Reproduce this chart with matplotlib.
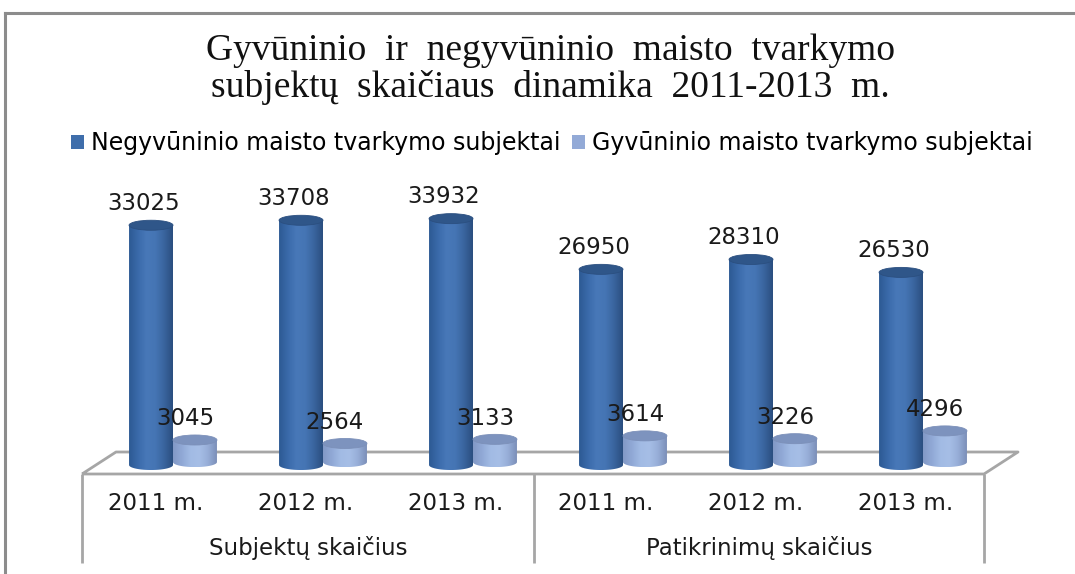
import matplotlib
matplotlib.use("Agg")
import matplotlib.pyplot as plt
import numpy as np
from matplotlib.patches import Ellipse, Polygon, Patch
from matplotlib.lines import Line2D


# =========================
# DATOS
# =========================

YEARS = ["2011 m.", "2012 m.", "2013 m.", "2011 m.", "2012 m.", "2013 m."]
GROUPS = ["Subjektų skaičius", "Patikrinimų skaičius"]
SERIES_NAMES = ["Negyvūninio maisto tvarkymo subjektai", "Gyvūninio maisto tvarkymo subjektai"]
NEGYVUNINIO = [33025, 33708, 33932, 26950, 28310, 26530]
GYVUNINIO = [3045, 2564, 3133, 3614, 3226, 4296]

TITLE = "Gyvūninio  ir  negyvūninio  maisto  tvarkymo\nsubjektų  skaičiaus  dinamika  2011-2013  m."

# =========================
# ESTILO / LAYOUT
# =========================

FIG_W, FIG_H = 1075, 574
DPI = 100
PX_PER_UNIT = 0.00726          # pixeles por unidad de valor
BASE_PX = 465                  # pixel (desde arriba) de la base de las barras
X0_PX = 173                    # centro del primer grupo
STEP_PX = 150                  # distancia entre categorias
Y_LOW, Y_HIGH = -16000, 40000

BAR_W = 0.293
ELL_H = 1380                   # alto del elipse superior en unidades
LIGHT_SHIFT = 400              # la serie clara se ve un poco mas arriba (profundidad)

DARK_GRAD = ["#2d5a94", "#3a6aaa", "#4878b8", "#4575b4", "#3a659f", "#2b4f80"]
DARK_TOP = "#2f5689"
LIGHT_GRAD = ["#8299c6", "#91a9d6", "#a2bbe4", "#a6bee6", "#97aed8", "#7c90b9"]
LIGHT_TOP = "#7d93be"
FLOOR_COLOR = "#a6a6a6"
FONT = "DejaVu Sans"
FS = 16.5


def cylinder(ax, x, base, top, color_list, top_color):
    half = BAR_W / 2
    eh = ELL_H / 2
    t = np.linspace(np.pi, 2 * np.pi, 40)
    pts = [(x - half, top), (x - half, base)]
    pts += list(zip(x + half * np.cos(t), base + eh * np.sin(t)))
    pts += [(x + half, top)]
    clip = Polygon(pts, closed=True, transform=ax.transData, facecolor="none", edgecolor="none")
    ax.add_patch(clip)

    cmap = matplotlib.colors.LinearSegmentedColormap.from_list("g", color_list)
    grad = np.linspace(0, 1, 64).reshape(1, -1)
    im = ax.imshow(grad, cmap=cmap, aspect="auto", extent=(x - half, x + half, base - eh, top),
                   origin="lower", zorder=2, interpolation="bilinear")
    im.set_clip_path(clip)

    ax.add_patch(Ellipse((x, top), BAR_W, ELL_H, facecolor=top_color,
                         edgecolor=color_list[-1], linewidth=0.6, zorder=3))


def main() -> None:
    fig = plt.figure(figsize=(FIG_W / DPI, FIG_H / DPI), dpi=DPI)

    # marco exterior
    fig.add_artist(Line2D([5 / FIG_W, 5 / FIG_W], [0, 1 - 13 / FIG_H], color="#8c8c8c", lw=2.2,
                          transform=fig.transFigure))
    fig.add_artist(Line2D([5 / FIG_W, 1], [1 - 13 / FIG_H, 1 - 13 / FIG_H], color="#8c8c8c", lw=2.2,
                          transform=fig.transFigure))

    # ejes colocados para que 1 unidad x = STEP_PX y la escala vertical sea PX_PER_UNIT
    left_px = X0_PX - 0.5 * STEP_PX
    width_px = 6 * STEP_PX
    bottom_px = FIG_H - BASE_PX + Y_LOW * PX_PER_UNIT
    height_px = (Y_HIGH - Y_LOW) * PX_PER_UNIT
    ax = fig.add_axes([left_px / FIG_W, bottom_px / FIG_H, width_px / FIG_W, height_px / FIG_H])
    ax.set_xlim(-0.5, 5.5)
    ax.set_ylim(Y_LOW, Y_HIGH)
    ax.axis("off")

    px = 1 / PX_PER_UNIT       # unidades por pixel vertical
    ux = 1 / STEP_PX           # unidades por pixel horizontal

    # piso 3D y tabla de categorias
    back_y, front_y = 13 * px, -9 * px
    bl, br = (116 - X0_PX) * ux, (1018 - X0_PX) * ux
    fl, fr = (82 - X0_PX) * ux, (984 - X0_PX) * ux
    mid = (534 - X0_PX) * ux
    table_bottom = -98 * px
    floor_kw = dict(color=FLOOR_COLOR, lw=2, zorder=1, solid_capstyle="butt", clip_on=False)
    ax.plot([fl, bl, br, fr, fl], [front_y, back_y, back_y, front_y, front_y], **floor_kw)
    for xv in (fl, mid, fr):
        ax.plot([xv, xv], [front_y, table_bottom], **floor_kw)

    x = np.arange(len(YEARS))
    for i in x:
        xd = i - BAR_W / 2
        xl = i + BAR_W / 2
        cylinder(ax, xd, 0, NEGYVUNINIO[i], DARK_GRAD, DARK_TOP)
        cylinder(ax, xl, LIGHT_SHIFT, LIGHT_SHIFT + GYVUNINIO[i], LIGHT_GRAD, LIGHT_TOP)
        ax.text(xd - 7 * ux, NEGYVUNINIO[i] + 22 * px, str(NEGYVUNINIO[i]), ha="center", va="center",
                fontsize=FS, family=FONT, color="#1a1a1a", zorder=5)
        ax.text(xl - 10 * ux, LIGHT_SHIFT + GYVUNINIO[i] + 21 * px, str(GYVUNINIO[i]), ha="center",
                va="center", fontsize=FS, family=FONT, color="#1a1a1a", zorder=5)
        ax.text(i - 17 * ux, -38 * px, YEARS[i], ha="center", va="center", fontsize=FS, family=FONT,
                color="#1a1a1a")

    ax.text((fl + mid) / 2, -83 * px, GROUPS[0], ha="center", va="center", fontsize=FS, family=FONT,
            color="#1a1a1a")
    ax.text((mid + fr) / 2, -83 * px, GROUPS[1], ha="center", va="center", fontsize=FS, family=FONT,
            color="#1a1a1a")

    ax.set_xlim(-0.5, 5.5)
    ax.set_ylim(Y_LOW, Y_HIGH)

    # titulo
    fig.text(550 / FIG_W, 1 - 69 / FIG_H, TITLE, ha="center", va="center", fontsize=27,
             family="Liberation Serif", linespacing=1.08, color="#111111")

    # leyenda
    handles = [Patch(facecolor="#3f6eab", edgecolor="none"), Patch(facecolor="#93aad7", edgecolor="none")]
    fig.legend(handles, SERIES_NAMES, loc="center", bbox_to_anchor=(552 / FIG_W, 1 - 143 / FIG_H),
               ncol=2, frameon=False, prop={"family": FONT, "size": 17}, handlelength=0.55,
               handleheight=0.55, handletextpad=0.3, columnspacing=0.5, borderaxespad=0)

    fig.savefig("out.png", dpi=DPI)


if __name__ == "__main__":
    main()
